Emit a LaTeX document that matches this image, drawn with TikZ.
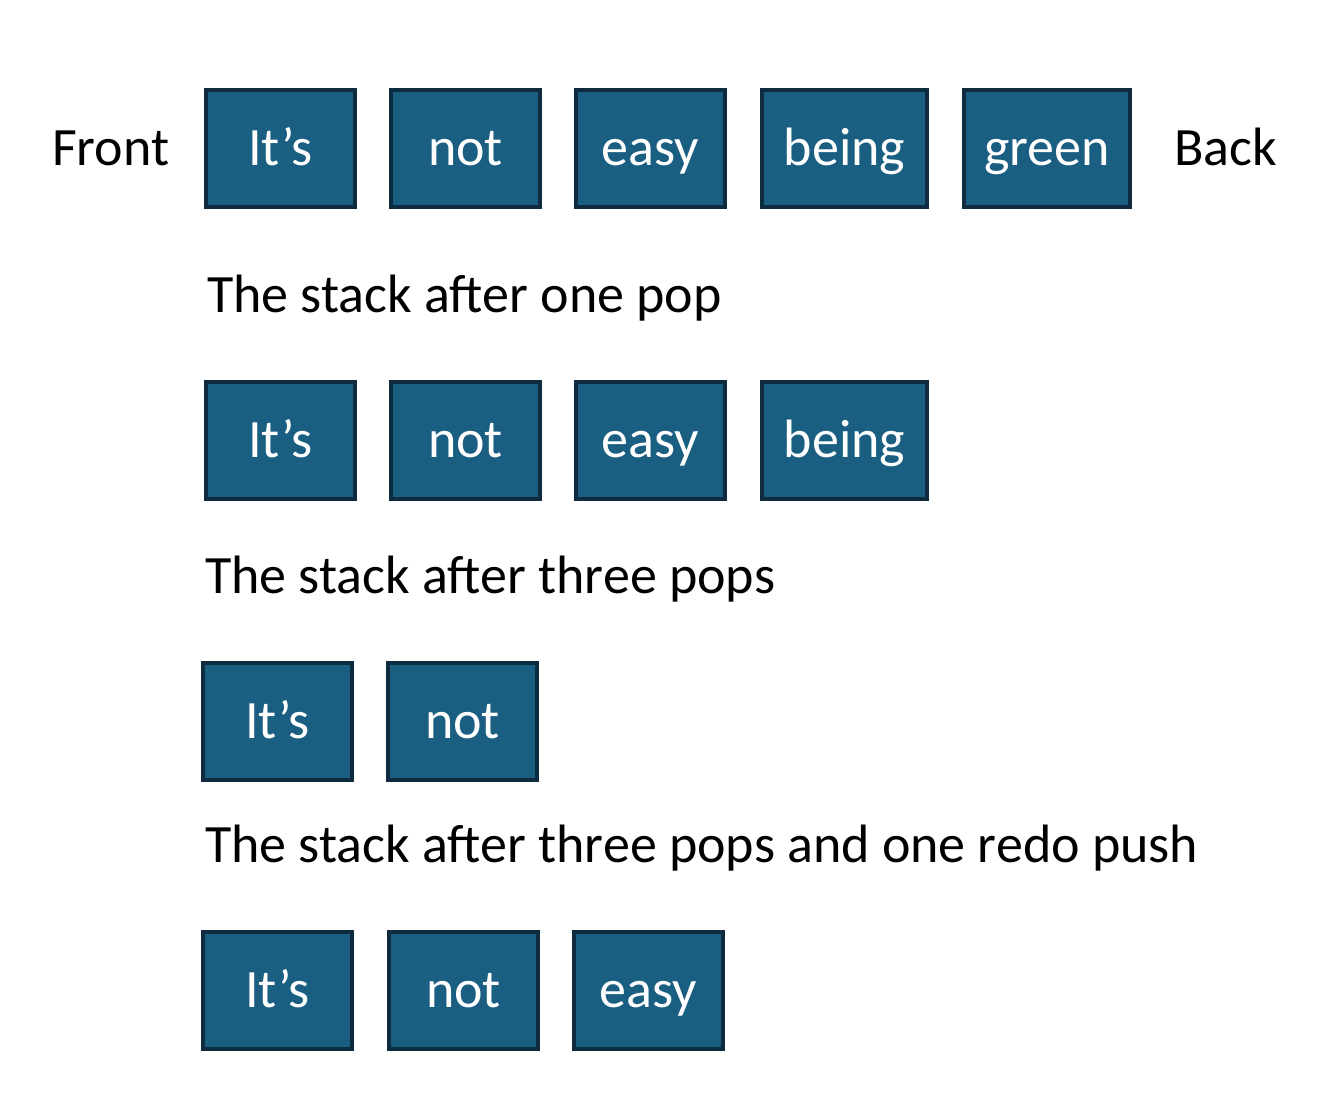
\documentclass[tikz,border=0pt]{standalone}
\usepackage{fontspec}
\setmainfont{Carlito}
\definecolor{boxfill}{HTML}{1A5F82}
\definecolor{boxline}{HTML}{0E2B40}
\begin{document}
\begin{tikzpicture}[x=1pt,y=-1pt,
  word/.style={draw=boxline, fill=boxfill, line width=4pt, minimum height=117pt,
    inner sep=0pt, text=white, font=\fontsize{54}{64}\selectfont,
    text height=46pt, text depth=11pt},
  lbl/.style={anchor=base west, font=\fontsize{54}{64}\selectfont, inner sep=0pt}]
\useasboundingbox (0,0) rectangle (1336,1102);
% row 1
\node[lbl] (front) at (52,166) {Front};
\node[word, minimum width=149pt] (a1) at (280.5,148.5) {It’s};
\node[word, minimum width=149pt] (a2) at (465.5,148.5) {not};
\node[word, minimum width=149pt] (a3) at (650.5,148.5) {easy};
\node[word, minimum width=165pt] (a4) at (844.5,148.5) {being};
\node[word, minimum width=166pt] (a5) at (1047,148.5) {green};
\node[lbl] (back) at (1174,166) {Back};
% caption 1
\node[lbl] (c1) at (207,312) {The stack after one pop};
% row 2
\node[word, minimum width=149pt] (b1) at (280.5,440) {It’s};
\node[word, minimum width=149pt] (b2) at (465.5,440) {not};
\node[word, minimum width=149pt] (b3) at (650.5,440) {easy};
\node[word, minimum width=165pt] (b4) at (844.5,440) {being};
% caption 2
\node[lbl] (c2) at (205,593) {The stack after three pops};
% row 3
\node[word, minimum width=149pt] (d1) at (277.5,721) {It’s};
\node[word, minimum width=149pt] (d2) at (462.5,721) {not};
% caption 3
\node[lbl] (c3) at (205,862) {The stack after three pops and one redo push};
% row 4
\node[word, minimum width=149pt] (e1) at (277.5,990) {It’s};
\node[word, minimum width=149pt] (e2) at (463.5,990) {not};
\node[word, minimum width=149pt] (e3) at (648.5,990) {easy};
\end{tikzpicture}
\end{document}
